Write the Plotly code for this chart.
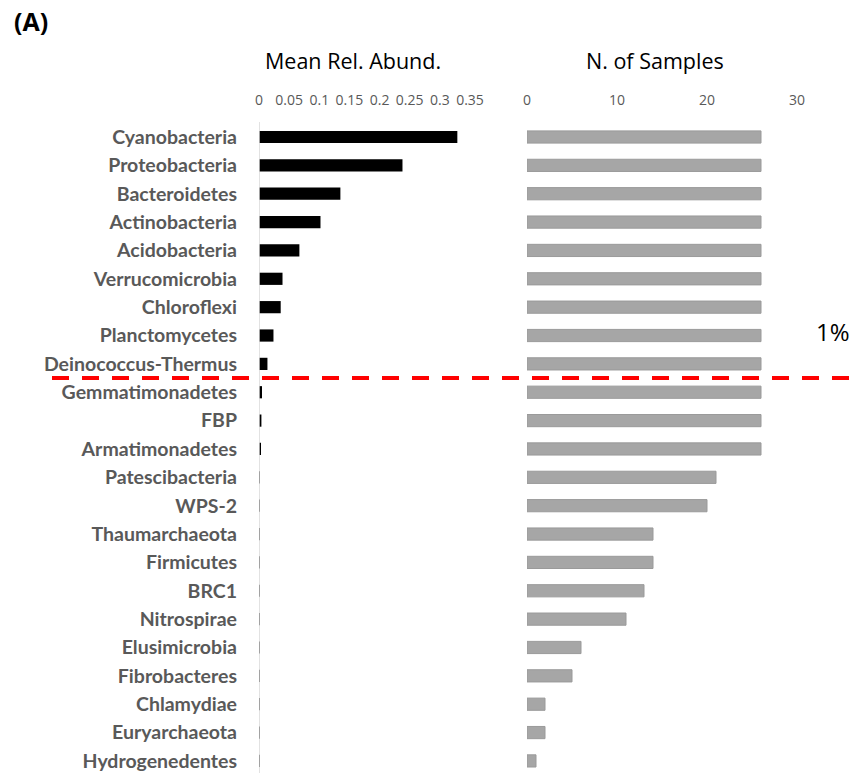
import plotly.graph_objects as go

# Phyla, ordered by mean relative abundance (top to bottom)
phyla = [
    "Cyanobacteria", "Proteobacteria", "Bacteroidetes", "Actinobacteria",
    "Acidobacteria", "Verrucomicrobia", "Chloroflexi", "Planctomycetes",
    "Deinococcus-Thermus", "Gemmatimonadetes", "FBP", "Armatimonadetes",
    "Patescibacteria", "WPS-2", "Thaumarchaeota", "Firmicutes", "BRC1",
    "Nitrospirae", "Elusimicrobia", "Fibrobacteres", "Chlamydiae",
    "Euryarchaeota", "Hydrogenedentes",
]
mean_rel_abund = [
    0.329, 0.238, 0.135, 0.102, 0.067, 0.039, 0.036, 0.024, 0.014,
    0.005, 0.004, 0.002, 0.001, 0.001, 0.001, 0.001, 0.001, 0.001,
    0.001, 0.001, 0.001, 0.001, 0.001,
]
n_samples = [
    26, 26, 26, 26, 26, 26, 26, 26, 26, 26, 26, 26,
    21, 20, 14, 14, 13, 11, 6, 5, 2, 2, 1,
]
abund_ticks = [0, 0.05, 0.1, 0.15, 0.2, 0.25, 0.3, 0.35]
sample_ticks = [0, 10, 20, 30]
cutoff_label = "1%"

W, H = 855, 773
LABEL_FONT = "Lato"
TEXT_FONT = "Open Sans"
GRAY = "#595959"

# pixel geometry of the layout
row0_px, row_step = 137.0, 28.36
y_top = -row0_px / row_step
y_bot = (H - row0_px) / row_step
axis_px = 108

def px_x(p):
    return p / W

def px_y(p):
    return 1 - p / H

fig = go.Figure()
fig.add_trace(go.Bar(
    y=phyla, x=mean_rel_abund, orientation="h",
    xaxis="x", yaxis="y", width=0.43,
    marker=dict(color="black", line=dict(width=0)),
    showlegend=False,
))
fig.add_trace(go.Bar(
    y=phyla, x=n_samples, orientation="h",
    xaxis="x2", yaxis="y", width=0.43,
    marker=dict(color="#A6A6A6", line=dict(color="#9A9A9A", width=1)),
    showlegend=False,
))

tick_font = dict(family=TEXT_FONT, size=14, color=GRAY)
fig.update_layout(
    width=W, height=H, autosize=False,
    margin=dict(l=0, r=0, t=0, b=0, pad=0),
    paper_bgcolor="white", plot_bgcolor="rgba(0,0,0,0)",
    xaxis=dict(
        domain=[px_x(259), px_x(470)], range=[0, 0.35],
        anchor="free", position=px_y(axis_px), side="top", automargin=False,
        tickvals=abund_ticks, ticktext=[f"{v:g}" for v in abund_ticks],
        tickangle=0, tickfont=tick_font, ticks="", showgrid=False,
        zeroline=False, showline=False,
    ),
    xaxis2=dict(
        domain=[px_x(527), px_x(797)], range=[0, 30],
        anchor="free", position=px_y(axis_px), side="top", automargin=False,
        tickvals=sample_ticks, tickangle=0, tickfont=tick_font, ticks="",
        showgrid=False, zeroline=False, showline=False,
    ),
    yaxis=dict(
        domain=[0, 1], type="category", range=[y_bot, y_top],
        anchor="x", automargin=False,
        tickfont=dict(family=LABEL_FONT, size=19.5, color=GRAY, weight="bold"),
        ticks="", ticklabelstandoff=21, showgrid=False, zeroline=False,
        showline=False,
    ),
)

# y axis line of the abundance panel
fig.add_shape(type="line", xref="x", yref="paper", x0=0, x1=0,
              y0=0, y1=px_y(122), line=dict(color="#D9D9D9", width=1.5))

# 1% abundance cut-off
fig.add_shape(type="line", xref="paper", yref="y",
              x0=px_x(52), x1=px_x(851), y0=8.5, y1=8.5,
              line=dict(color="#FF0000", width=4, dash="17px,13px"))


def label(text, x, y, size, weight="normal", xanchor="center"):
    fig.add_annotation(x=px_x(x), y=px_y(y), xref="paper", yref="paper",
                       xanchor=xanchor, yanchor="middle", text=text,
                       showarrow=False,
                       font=dict(family=TEXT_FONT, size=size, color="black",
                                 weight=weight))


label(cutoff_label, 833, 332, 24)
label("Mean Rel. Abund.", 353, 60, 21.5)
label("N. of Samples", 655, 60, 21.5)
label("(A)", 12, 21, 25, weight="bold", xanchor="left")

fig.write_html("out.html")
